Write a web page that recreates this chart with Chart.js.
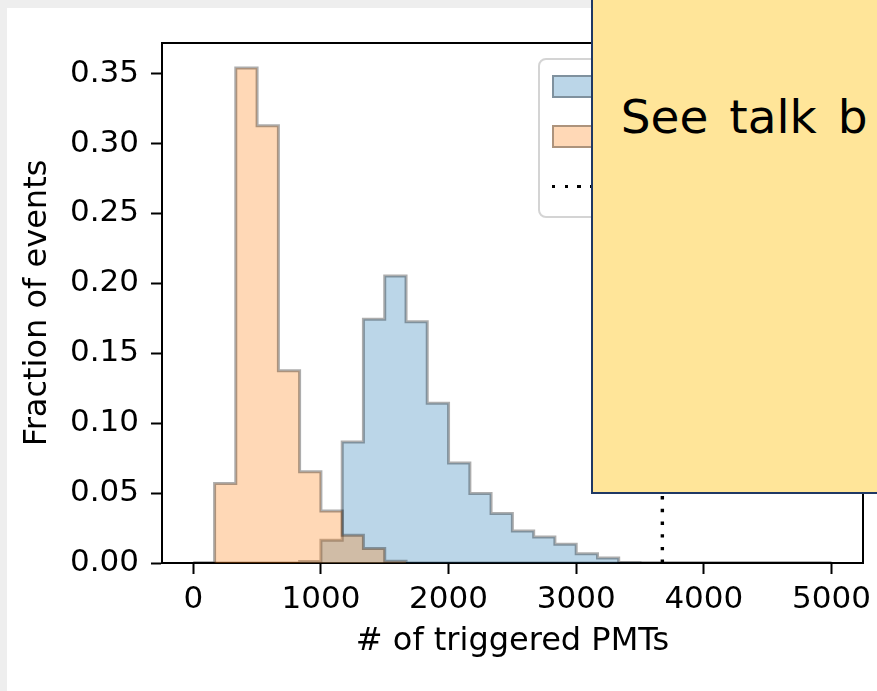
<!DOCTYPE html>
<html>
<head>
<meta charset="utf-8">
<title>Triggered PMTs</title>
<script src="https://cdn.jsdelivr.net/npm/chart.js@4.4.1/dist/chart.umd.min.js"></script>
<style>
  html, body { margin: 0; padding: 0; }
  body {
    width: 877px; height: 691px; overflow: hidden; position: relative;
    background: #eeeeee; font-family: "DejaVu Sans", sans-serif;
  }
  #sheet { position: absolute; left: 7px; top: 8px; right: -20px; bottom: -20px; background: #fff; }
  #histChart { position: absolute; left: 0; top: 0; }
  #legendBox {
    position: absolute; left: 538px; top: 58px; width: 330px; height: 156px;
    border: 2px solid #d4d4d4; border-radius: 8px; background: rgba(255,255,255,0.8);
  }
  .legend-row { position: absolute; left: 12px; width: 60px; height: 0; }
  .legend-row div { position: absolute; left: 0; width: 60px; box-sizing: border-box; }
  #note {
    position: absolute; left: 590.7px; top: -5px; width: 320px; height: 499.3px;
    box-sizing: border-box; background: #ffe599; border: 2px solid #1f3864;
  }
  #note span {
    position: absolute; left: 28px; top: 92px; line-height: 1;
    font: 47px "Ink Free", "Segoe Print", "DejaVu Sans", sans-serif;
    word-spacing: 6px; color: #000; white-space: nowrap;
  }
</style>
</head>
<body>
<div id="sheet"></div>
<canvas id="histChart" width="877" height="691"></canvas>
<div id="legendBox"></div>
<div id="note"><span>See talk b</span></div>

<script>
// bin edges of both histograms (30 bins, 0..5000)
const binEdges = [0, 167, 333, 500, 667, 833, 1000, 1167, 1333, 1500, 1667, 1833, 2000, 2167, 2333,
  2500, 2667, 2833, 3000, 3167, 3333, 3500, 3667, 3833, 4000, 4167, 4333, 4500, 4667, 4833, 5000];

// fraction of events per bin
const blueFrac = [0, 0, 0, 0, 0, 0.001, 0.0163, 0.0866, 0.1743, 0.2053, 0.1726, 0.1143, 0.0716, 0.0497, 0.0354,
  0.0229, 0.0186, 0.0134, 0.0067, 0.0035, 0.0004, 0, 0, 0, 0, 0, 0, 0, 0, 0];
const orangeFrac = [0, 0.0569, 0.354, 0.3127, 0.1375, 0.0652, 0.0372, 0.0198, 0.0103, 0.0012, 0, 0, 0, 0, 0,
  0, 0, 0, 0, 0, 0, 0, 0, 0, 0, 0, 0, 0, 0, 0];

// threshold marked with the dotted line
const cutValue = 3675;

const xTicks = [0, 1000, 2000, 3000, 4000, 5000];
const yTicks = [0, 0.05, 0.10, 0.15, 0.20, 0.25, 0.30, 0.35];
const xRange = [-245, 5247];
const yRange = [0, 0.3719];

const tickFont = { family: "DejaVu Sans", size: 31 };
const titleFont = { family: "DejaVu Sans", size: 32 };

function histPoints(edges, fracs) {
  const pts = [{ x: edges[0], y: 0 }];
  fracs.forEach((f, i) => pts.push({ x: edges[i], y: f }));
  pts.push({ x: edges[edges.length - 1], y: 0 });
  return pts;
}

function spineAxis(position, range, size) {
  return {
    type: "linear", position, min: range[0], max: range[1],
    ticks: { display: false }, grid: { display: false },
    border: { display: true, color: "#000", width: 2 },
    z: 1,
    afterFit: s => {
      if (position === "top") s.height = size; else s.width = size;
      s.paddingLeft = s.paddingRight = s.paddingTop = s.paddingBottom = 0;
    }
  };
}

const histogramStyle = {
  stepped: "before", pointRadius: 0, borderWidth: 3,
  borderColor: "rgba(0,0,0,0.32)", fill: "origin", borderJoinStyle: "miter"
};

const chart = new Chart(document.getElementById("histChart"), {
  type: "line",
  data: {
    datasets: [
      { ...histogramStyle, label: "blue", data: histPoints(binEdges, blueFrac),
        backgroundColor: "rgba(31,119,180,0.3)", order: 3 },
      { ...histogramStyle, label: "orange", data: histPoints(binEdges, orangeFrac),
        backgroundColor: "rgba(255,127,14,0.3)", order: 2 },
      { label: "cut", data: [{ x: cutValue, y: yRange[0] }, { x: cutValue, y: yRange[1] }],
        borderColor: "#000", backgroundColor: "#000", borderWidth: 3.4, borderDash: [3.4, 9.3],
        borderCapStyle: "butt", pointRadius: 0, fill: false, order: 1 }
    ]
  },
  options: {
    responsive: false,
    animation: false,
    devicePixelRatio: 1,
    layout: { padding: 0 },
    plugins: { legend: { display: false }, tooltip: { enabled: false } },
    scales: {
      x: {
        type: "linear", position: "bottom", min: xRange[0], max: xRange[1],
        afterBuildTicks: s => { s.ticks = xTicks.map(v => ({ value: v })); },
        afterFit: s => { s.height = 128; s.paddingLeft = 0; s.paddingRight = 0; },
        ticks: { color: "#000", font: tickFont, padding: 7, maxRotation: 0, autoSkip: false,
          callback: v => String(v) },
        grid: { display: true, drawOnChartArea: false, drawTicks: true, tickLength: 11,
          tickWidth: 2, tickColor: "#000" },
        border: { display: true, color: "#000", width: 2 },
        title: { display: true, text: "# of triggered PMTs", color: "#000", font: titleFont,
          padding: { top: 0, bottom: 30 } },
        z: 1
      },
      y: {
        type: "linear", position: "left", min: yRange[0], max: yRange[1],
        afterBuildTicks: s => { s.ticks = yTicks.map(v => ({ value: v })); },
        afterFit: s => { s.width = 162; s.paddingTop = 0; s.paddingBottom = 0; },
        ticks: { color: "#000", font: tickFont, padding: 12, autoSkip: false,
          callback: v => v.toFixed(2) },
        grid: { display: true, drawOnChartArea: false, drawTicks: true, tickLength: 11,
          tickWidth: 2, tickColor: "#000" },
        border: { display: true, color: "#000", width: 2 },
        title: { display: true, text: "Fraction of events", color: "#000", font: titleFont,
          padding: { top: 18, bottom: 0 } },
        z: 1
      },
      xTop: spineAxis("top", xRange, 43),
      yRight: spineAxis("right", yRange, 14)
    }
  }
});

// legend handles only; the label column sits under the note
function buildLegend(chart) {
  const box = document.getElementById("legendBox");
  const items = chart.options.plugins.legend.labels.generateLabels(chart)
    .sort((a, b) => a.datasetIndex - b.datasetIndex);

  items.forEach((item, i) => {
    const ds = chart.data.datasets[item.datasetIndex];
    const row = document.createElement("div");
    row.className = "legend-row";
    row.style.top = (26.7 + 50 * i) + "px";

    const handle = document.createElement("div");
    if (ds.fill) {
      handle.style.height = "23px";
      handle.style.top = "-11.5px";
      handle.style.background = item.fillStyle;
      handle.style.border = "2.5px solid " + item.strokeStyle;
    } else {
      const w = ds.borderWidth, dash = ds.borderDash;
      handle.style.height = w + "px";
      handle.style.top = (-w / 2) + "px";
      handle.style.background = `repeating-linear-gradient(90deg, ${item.strokeStyle} 0 ${dash[0]}px, transparent ${dash[0]}px ${dash[0] + dash[1]}px)`;
    }
    row.appendChild(handle);
    box.appendChild(row);
  });
}

buildLegend(chart);
</script>
</body>
</html>
